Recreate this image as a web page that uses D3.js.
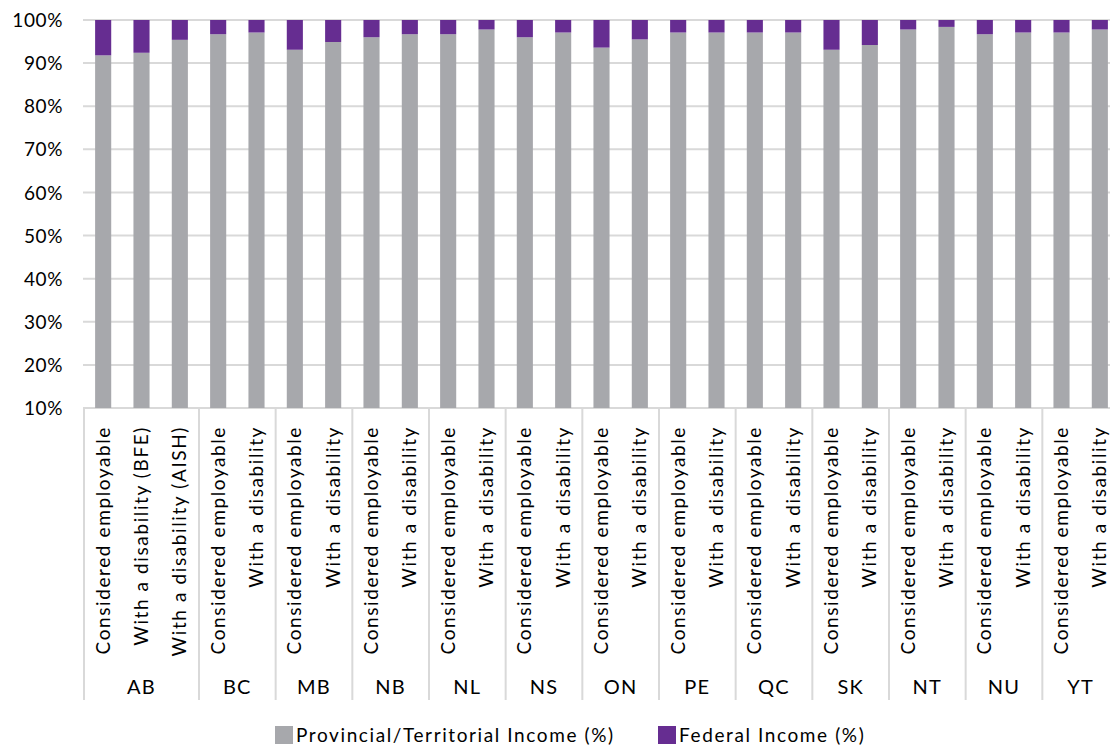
<!DOCTYPE html>
<html>
<head>
<meta charset="utf-8">
<script src="https://cdn.jsdelivr.net/npm/d3@7"></script>
<style>
  html, body { margin: 0; padding: 0; background: #fff; overflow: hidden; }
  svg { display: block; font-family: "Lato", "Open Sans", sans-serif; }
</style>
</head>
<body>
<svg id="chart" width="1110" height="746"></svg>
<script>
// Provinces / territories and the client groups shown under each
const regions = ["AB", "BC", "MB", "NB", "NL", "NS", "ON", "PE", "QC", "SK", "NT", "NU", "YT"];
const groupsByRegion = [
  ["Considered employable", "With a disability (BFE)", "With a disability (AISH)"],
  ["Considered employable", "With a disability"],
  ["Considered employable", "With a disability"],
  ["Considered employable", "With a disability"],
  ["Considered employable", "With a disability"],
  ["Considered employable", "With a disability"],
  ["Considered employable", "With a disability"],
  ["Considered employable", "With a disability"],
  ["Considered employable", "With a disability"],
  ["Considered employable", "With a disability"],
  ["Considered employable", "With a disability"],
  ["Considered employable", "With a disability"],
  ["Considered employable", "With a disability"]
];
// Share of total income (%) by source, one value per bar in the order above
const provincialIncome = [
  91.8, 92.4, 95.4,
  96.7, 97.1,
  93.1, 94.9,
  96.0, 96.7,
  96.7, 97.8,
  96.0, 97.1,
  93.6, 95.5,
  97.1, 97.1,
  97.1, 97.1,
  93.1, 94.2,
  97.8, 98.4,
  96.7, 97.1,
  97.1, 97.8
];
const federalIncome = [
  8.2, 7.6, 4.6,
  3.3, 2.9,
  6.9, 5.1,
  4.0, 3.3,
  3.3, 2.2,
  4.0, 2.9,
  6.4, 4.5,
  2.9, 2.9,
  2.9, 2.9,
  6.9, 5.8,
  2.2, 1.6,
  3.3, 2.9,
  2.9, 2.2
];
const yTicks = [10, 20, 30, 40, 50, 60, 70, 80, 90, 100];
const seriesNames = ["Provincial/Territorial Income (%)", "Federal Income (%)"];
const seriesColors = ["#A7A8AC", "#662D91"];

// Flatten to one row per bar
const rows = [];
regions.forEach((r, ri) => {
  groupsByRegion[ri].forEach(g => {
    const i = rows.length;
    rows.push({ id: i, region: r, group: g, prov: provincialIncome[i], fed: federalIncome[i] });
  });
});

const svg = d3.select("#chart");
const plotLeft = 84, plotRight = 1119, plotTop = 20, plotBottom = 408;

const x = d3.scaleBand()
  .domain(rows.map(d => d.id))
  .range([plotLeft, plotRight])
  .paddingInner(0.58)
  .paddingOuter(0.29);
const step = x.step();

const y = d3.scaleLinear().domain([10, 100]).range([plotBottom, plotTop]);

// Horizontal gridlines
svg.append("g").selectAll("line")
  .data(yTicks)
  .join("line")
  .attr("x1", plotLeft - 1).attr("x2", 1110)
  .attr("y1", d => y(d)).attr("y2", d => y(d))
  .attr("stroke", "#D9D9D9").attr("stroke-width", 2);

// Y axis tick labels
const yAxis = d3.axisLeft(y).tickValues(yTicks).tickFormat(d => d + "%").tickSize(0).tickPadding(0);
const yg = svg.append("g").attr("transform", `translate(${plotLeft - 21},0)`).call(yAxis);
yg.select(".domain").remove();
yg.selectAll("text")
  .attr("font-size", 19).attr("fill", "#000")
  .attr("font-family", "Lato, sans-serif")
  .attr("letter-spacing", 0.6)
  .attr("dy", "0.35em");

// Stacked bars
const stack = d3.stack().keys(["prov", "fed"]);
const layers = stack(rows);
svg.append("g").selectAll("g")
  .data(layers)
  .join("g")
  .attr("fill", (d, i) => seriesColors[i])
  .selectAll("rect")
  .data(d => d)
  .join("rect")
  .attr("x", d => x(d.data.id))
  .attr("width", x.bandwidth())
  .attr("y", d => y(Math.min(100, d[1])))
  .attr("height", d => y(Math.max(10, d[0])) - y(Math.min(100, d[1])));

// Category labels (rotated)
svg.append("g").selectAll("text")
  .data(rows)
  .join("text")
  .attr("transform", d => `translate(${x(d.id) + x.bandwidth() / 2 + 6.5},${plotBottom + 18}) rotate(-90)`)
  .attr("text-anchor", "end")
  .attr("font-size", 19)
  .attr("letter-spacing", 1.6)
  .attr("fill", "#000")
  .text(d => d.group);

// Region separators and labels
const regionBounds = [];
let idx = 0;
regions.forEach((r, ri) => {
  const n = groupsByRegion[ri].length;
  const x0 = x(idx) - step * x.paddingInner() / 2;
  const x1 = x(idx + n - 1) + x.bandwidth() + step * x.paddingInner() / 2;
  regionBounds.push({ region: r, x0, x1 });
  idx += n;
});
svg.append("g").selectAll("line")
  .data(regionBounds)
  .join("line")
  .attr("x1", d => d.x0).attr("x2", d => d.x0)
  .attr("y1", plotBottom).attr("y2", 700)
  .attr("stroke", "#D9D9D9").attr("stroke-width", 2);
svg.append("g").selectAll("text")
  .data(regionBounds)
  .join("text")
  .attr("x", d => (d.x0 + d.x1) / 2)
  .attr("y", 694)
  .attr("text-anchor", "middle")
  .attr("font-size", 20)
  .attr("letter-spacing", 1.2)
  .attr("fill", "#000")
  .text(d => d.region);

// Legend
const legendX = [275, 658];
const legend = svg.append("g").selectAll("g")
  .data(seriesNames)
  .join("g")
  .attr("transform", (d, i) => `translate(${legendX[i]},726)`);
legend.append("rect").attr("width", 18).attr("height", 18).attr("fill", (d, i) => seriesColors[i]);
legend.append("text")
  .attr("x", 21).attr("y", 16)
  .attr("font-size", 19)
  .attr("letter-spacing", 1.6)
  .attr("fill", "#000")
  .text(d => d);
</script>
</body>
</html>
